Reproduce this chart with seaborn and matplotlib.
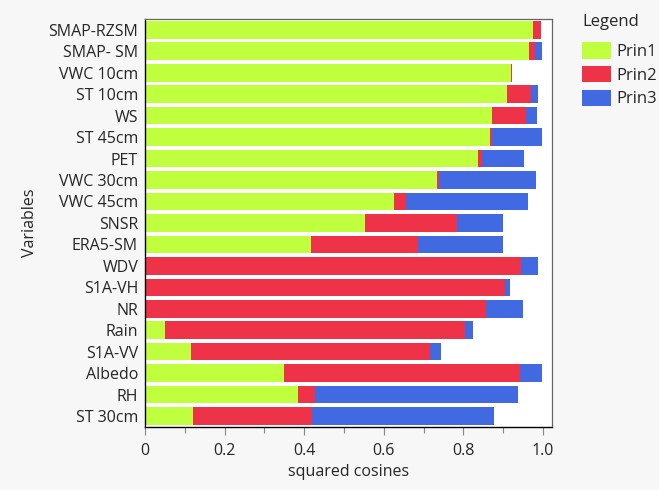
import matplotlib
matplotlib.use("Agg")
import matplotlib.pyplot as plt
from matplotlib.patches import Patch
from matplotlib.ticker import MultipleLocator
import numpy as np
import pandas as pd
import seaborn as sns

variables = ["SMAP-RZSM", "SMAP- SM", "VWC 10cm", "ST 10cm", "WS", "ST 45cm", "PET",
             "VWC 30cm", "VWC 45cm", "SNSR", "ERA5-SM", "WDV", "S1A-VH", "NR", "Rain",
             "S1A-VV", "Albedo", "RH", "ST 30cm"]
prin1 = [0.974, 0.965, 0.920, 0.910, 0.872, 0.867, 0.836, 0.733, 0.626, 0.553, 0.417,
         0.003, 0.002, 0.001, 0.051, 0.116, 0.350, 0.384, 0.121]
prin2 = [0.021, 0.015, 0.002, 0.060, 0.084, 0.005, 0.010, 0.006, 0.030, 0.230, 0.270,
         0.941, 0.902, 0.856, 0.753, 0.600, 0.593, 0.042, 0.298]
prin3 = [0.000, 0.018, 0.001, 0.017, 0.028, 0.125, 0.105, 0.242, 0.307, 0.117, 0.212,
         0.042, 0.014, 0.093, 0.020, 0.028, 0.055, 0.510, 0.458]
components = ["Prin1", "Prin2", "Prin3"]
colors = ["#C0FF3E", "#EE3348", "#4169E1"]

df = pd.DataFrame({"Variables": variables, "Prin1": prin1, "Prin2": prin2, "Prin3": prin3})
df["c1"] = df["Prin1"]
df["c2"] = df["c1"] + df["Prin2"]
df["c3"] = df["c2"] + df["Prin3"]

sns.set_theme(style="white")
plt.rcParams["font.family"] = ["Open Sans", "DejaVu Sans"]

fig = plt.figure(figsize=(6.59, 4.90), dpi=100, facecolor="#F7F7F7")
ax = fig.add_axes([0.220, 0.129, 0.618, 0.832])
ax.set_facecolor("white")

# stacked bars: draw cumulative totals from the outermost segment inwards
for col, color in zip(["c3", "c2", "c1"], colors[::-1]):
    sns.barplot(data=df, x=col, y="Variables", orient="h", color=color,
                width=0.82, saturation=1, edgecolor="none", linewidth=0, ax=ax)

ax.set_xlim(0, 1.023)
ax.set_ylim(18.5, -0.5)
ax.xaxis.set_major_locator(MultipleLocator(0.2))
ax.xaxis.set_minor_locator(MultipleLocator(0.1))
ax.set_xticks([0, 0.2, 0.4, 0.6, 0.8, 1.0])
ax.set_xticklabels(["0", "0.2", "0.4", "0.6", "0.8", "1.0"])
ax.tick_params(axis="x", which="major", bottom=True, length=6, width=0.8, color="#888888",
               labelsize=11.5, pad=6)
ax.tick_params(axis="x", which="minor", bottom=True, length=4, width=0.8, color="#888888")
ax.tick_params(axis="y", left=False, length=0, labelsize=11.5, pad=5)

for side in ["top", "right"]:
    ax.spines[side].set_color("#666666")
    ax.spines[side].set_linewidth(0.9)
for side in ["left", "bottom"]:
    ax.spines[side].set_color("black")
    ax.spines[side].set_linewidth(1.0)

ax.set_xlabel("squared cosines", fontsize=11.5, labelpad=3)
ax.set_ylabel("Variables", fontsize=11.5, labelpad=7)

handles = [Patch(facecolor=c, edgecolor="none", label=n) for n, c in zip(components, colors)]
leg = ax.legend(handles=handles, title="Legend", loc="upper left", bbox_to_anchor=(1.057, 1.03),
                frameon=False, fontsize=12, title_fontsize=12, handlelength=1.75,
                handleheight=1.15, handletextpad=0.3, labelspacing=0.35, borderaxespad=0)
leg._legend_box.align = "left"
leg._legend_box.sep = 9

fig.savefig("out.png", dpi=100, facecolor=fig.get_facecolor())
